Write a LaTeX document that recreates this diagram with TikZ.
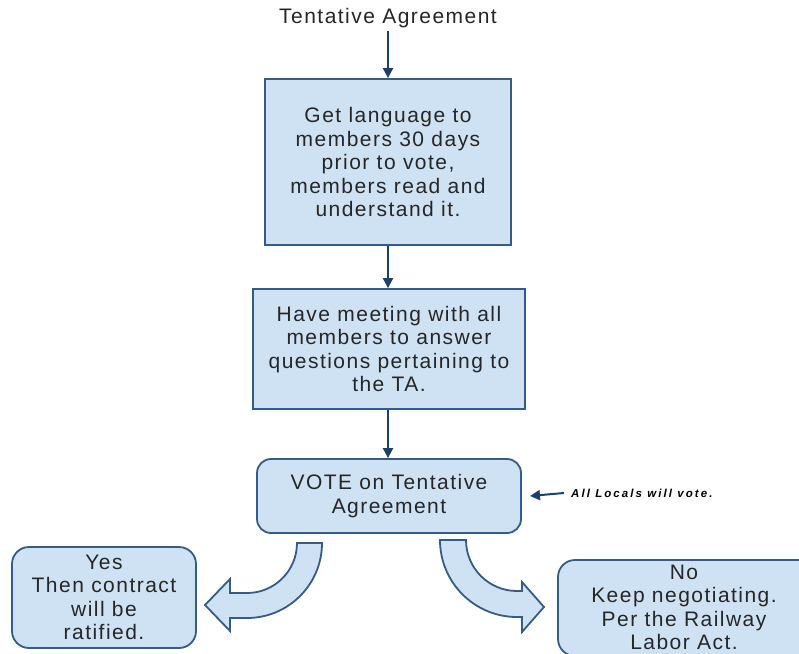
\documentclass[tikz,border=0pt]{standalone}
\usepackage{fontspec}
\setmainfont{Liberation Sans}[LetterSpace=7]
\newfontfamily\notefont{Liberation Sans}[LetterSpace=18]
\usetikzlibrary{arrows.meta}
\definecolor{boxfill}{RGB}{207,226,243}
\definecolor{boxline}{RGB}{52,92,135}
\definecolor{arrowc}{RGB}{28,64,108}
\tikzset{
  box/.style={draw=boxline, fill=boxfill, line width=1.8, align=center, inner sep=0,
    font=\fontsize{21}{23.5}\selectfont, text=black!85},
  rbox/.style={box, rounded corners=14},
  conn/.style={draw=arrowc, line width=2, -{Triangle[length=10,width=10]}},
  blockarrow/.style={draw=boxline, fill=boxfill, line width=1.8, line join=miter}
}
\begin{document}
\begin{tikzpicture}[x=1pt,y=-1pt]
\useasboundingbox (0,0) rectangle (799,653);
\clip (0,0) rectangle (799,653);
\node[font=\fontsize{21}{23.5}\selectfont, text=black!85, inner sep=3] (ta) at (388,18) {Tentative Agreement};
\node[box, minimum width=246, minimum height=166] (b1) at (388,162)
  {Get language to\\members 30 days\\prior to vote,\\members read and\\understand it.};
\node[box, minimum width=272, minimum height=120] (b2) at (389,349)
  {Have meeting with all\\members to answer\\questions pertaining to\\the TA.};
\node[rbox, minimum width=264, minimum height=74] (b3) at (389,496)
  {VOTE on Tentative\\Agreement};
\node[rbox, rounded corners=17, minimum width=184, minimum height=101] (yes) at (104,597.5)
  {Yes\\Then contract\\will be\\ratified.};
\node[rbox, rounded corners=17, minimum width=260, minimum height=96] (no) at (688,608)
  {};
\node[font=\fontsize{21}{23.5}\selectfont, text=black!85, align=center] (notext) at (684,607.5)
  {No\\Keep negotiating.\\Per the Railway\\Labor Act.};
\node[anchor=west, font=\notefont\fontsize{11.5}{13}\selectfont\bfseries\itshape, inner sep=0] (note) at (571,493)
  {All Locals will vote.};
\coordinate (noteend) at (564,493);
\draw[conn] (ta.south) -- (b1.north);
\draw[conn] (b1.south) -- (b1.south |- b2.north);
\draw[conn] (b1.south |- b2.south) -- (b1.south |- b3.north);
\draw[conn] (noteend) -- (b3.east -| 530,0);
% curved block arrows
\path[blockarrow] (297,543) arc[start angle=0,end angle=90,radius=50] -- (230,593) -- (230,579)
  -- (205,605) -- (230,631) -- (230,618) -- (247,618) arc[start angle=90,end angle=0,radius=75] -- cycle;
\path[blockarrow] (466,540) arc[start angle=180,end angle=90,radius=51] -- (522,591) -- (522,582)
  -- (544,607) -- (522,632) -- (522,617) -- (517,617) arc[start angle=90,end angle=180,radius=77] -- cycle;
\end{tikzpicture}
\end{document}
